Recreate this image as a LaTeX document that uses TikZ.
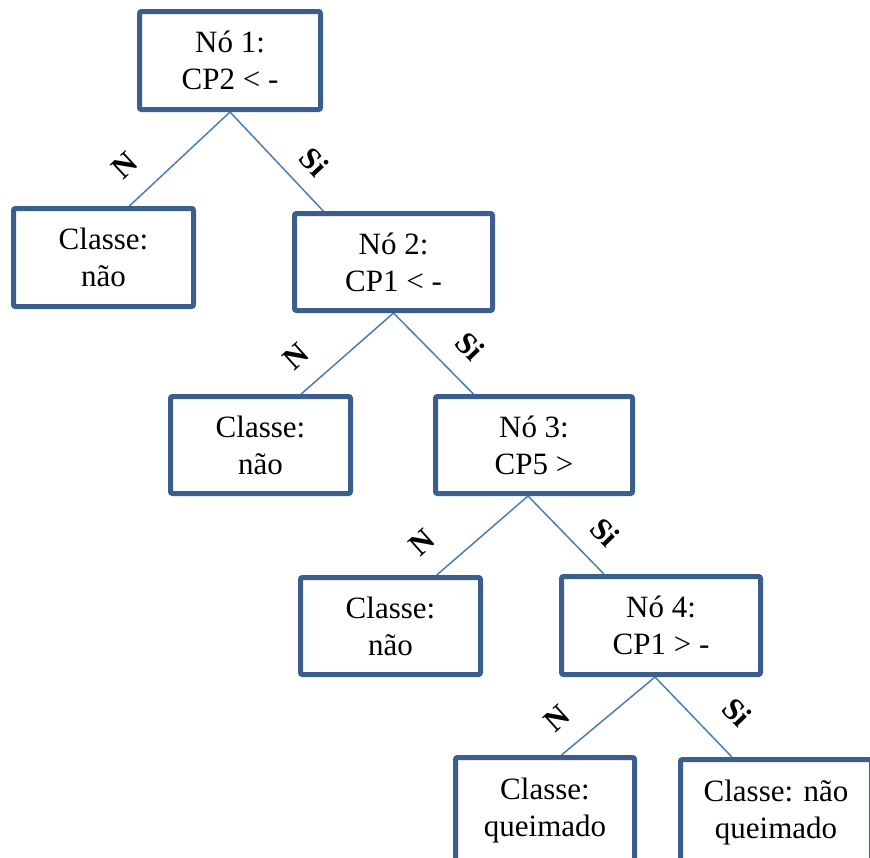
\documentclass[tikz,border=0pt]{standalone}
\usepackage{fontspec}
\setmainfont{Liberation Serif}
\usetikzlibrary{calc,backgrounds}
\definecolor{boxblue}{RGB}{59,94,140}
\definecolor{lineblue}{RGB}{74,126,187}
\begin{document}
\begin{tikzpicture}[x=1pt,y=-1pt,
  box/.style={draw=boxblue, line width=5pt, rounded corners=2pt, fill=white, align=center, inner sep=0pt, font=\fontsize{31}{37}\selectfont},
  edge/.style={draw=lineblue, line width=1.5pt},
  lbl/.style={font=\fontsize{31}{37}\selectfont\bfseries, inner sep=0pt}]
\useasboundingbox (0,0) rectangle (870,857);
\clip (0,0) rectangle (870,857);
\node[box, minimum width=181, minimum height=98] (n1) at (230,60.5) {Nó 1:\\CP2 < -};
\node[box, minimum width=180, minimum height=98] (L1) at (103.5,257.5) {Classe:\\não};
\node[box, minimum width=198, minimum height=97] (n2) at (393.5,262) {Nó 2:\\CP1 < -};
\node[box, minimum width=180, minimum height=97] (L2) at (260.5,445) {Classe:\\não};
\node[box, minimum width=197, minimum height=97] (n3) at (534,445) {Nó 3:\\CP5 >};
\node[box, minimum width=180, minimum height=97] (L3) at (390.5,626) {Classe:\\não};
\node[box, minimum width=199, minimum height=98] (n4) at (661,625.5) {Nó 4:\\CP1 > -};
\node[box, minimum width=179, minimum height=106] (L4) at (545,810.5) {Classe:\\queimado};
\node[box, minimum width=191, minimum height=106] (L5) at (776,812.5) {Classe: não\\queimado};
\begin{pgfonlayer}{background}
\draw[edge] (n1.south) -- ($(L1.north west)!0.64!(L1.north east)$);
\draw[edge] (n1.south) -- ($(n2.north west)!0.154!(n2.north east)$);
\draw[edge] (n2.south) -- ($(L2.north west)!0.72!(L2.north east)$);
\draw[edge] (n2.south) -- ($(n3.north west)!0.2!(n3.north east)$);
\draw[edge] ($(n3.south)+(-6,0)$) -- ($(L3.north west)!0.75!(L3.north east)$);
\draw[edge] ($(n3.south)+(-6,0)$) -- ($(n4.north west)!0.22!(n4.north east)$);
\draw[edge] ($(n4.south)+(-6,0)$) -- ($(L4.north west)!0.59!(L4.north east)$);
\draw[edge] ($(n4.south)+(-6,0)$) -- ($(L5.north west)!0.275!(L5.north east)$);
\end{pgfonlayer}
\node[lbl, rotate=43] (t1n) at (125,165) {N};
\node[lbl, rotate=-47] (t1s) at (314,162) {Si};
\node[lbl, rotate=42] (t2n) at (296,356) {N};
\node[lbl, rotate=-46] (t2s) at (470,346) {Si};
\node[lbl, rotate=42] (t3n) at (422,542) {N};
\node[lbl, rotate=-46] (t3s) at (605,532) {Si};
\node[lbl, rotate=42] (t4n) at (557,718) {N};
\node[lbl, rotate=-46] (t4s) at (737,712) {Si};
\end{tikzpicture}
\end{document}
